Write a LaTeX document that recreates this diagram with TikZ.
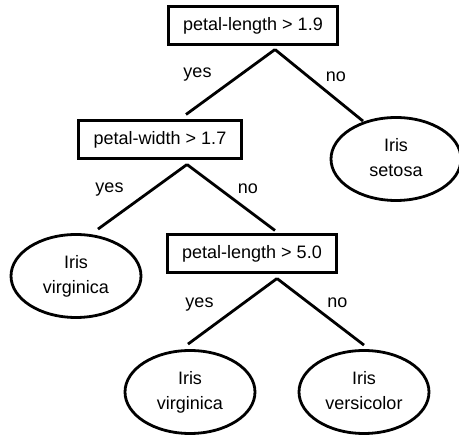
\documentclass[tikz,border=0pt]{standalone}
\usepackage{fontspec}
\setmainfont{Liberation Sans}
\usetikzlibrary{shapes, positioning}

\begin{document}
\begin{tikzpicture}[
    x=1pt, y=-1pt,
    test/.style={draw, rectangle, line width=3pt, minimum height=38pt, inner xsep=15pt, font=\fontsize{18}{27}\selectfont},
    leaf/.style={draw, ellipse, line width=2.8pt, minimum width=130pt, minimum height=83pt, align=center, inner sep=0pt, font=\fontsize{18}{25}\selectfont},
    branch/.style={line width=2.8pt},
    yeslbl/.style={midway, xshift=-33pt, yshift=7pt, font=\fontsize{18}{22}\selectfont},
    nolbl/.style={midway, xshift=17pt, yshift=9pt, font=\fontsize{18}{22}\selectfont}
]
\useasboundingbox (0,0) rectangle (459,435);

% Tests
\node[test] (q_len1) at (253,26) {petal-length > 1.9};
\node[test] (q_wid) at (160,140) {petal-width > 1.7};
\node[test] (q_len2) at (252,254) {petal-length > 5.0};

% Leaves
\node[leaf] (setosa) at (396,159) {Iris\\setosa\rule[-4pt]{0pt}{1pt}};
\node[leaf] (virg_a) at (76,276) {Iris\\virginica\rule[-4pt]{0pt}{1pt}};
\node[leaf] (virg_b) at (190,392) {Iris\\virginica\rule[-4pt]{0pt}{1pt}};
\node[leaf] (versi) at (364,392) {Iris\\versicolor\rule[-4pt]{0pt}{1pt}};

% Branches of first test
\draw[branch] ([xshift=22pt,yshift=-3pt]q_len1.south) -- node[yeslbl] {yes} ([xshift=26pt,yshift=5pt]q_wid.north);
\draw[branch] ([xshift=22pt,yshift=-3pt]q_len1.south) -- node[nolbl] {no} ([xshift=-33pt,yshift=-5pt]setosa.north);

% Branches of second test
\draw[branch] ([xshift=27pt,yshift=-4pt]q_wid.south) -- node[yeslbl] {yes} ([xshift=22pt,yshift=4pt]virg_a.north);
\draw[branch] ([xshift=27pt,yshift=-4pt]q_wid.south) -- node[nolbl] {no} ([xshift=23pt,yshift=3pt]q_len2.north);

% Branches of third test
\draw[branch] ([xshift=25pt,yshift=-4pt]q_len2.south) -- node[yeslbl] {yes} ([xshift=-2pt,yshift=5pt]virg_b.north);
\draw[branch] ([xshift=25pt,yshift=-4pt]q_len2.south) -- node[nolbl] {no} ([yshift=4pt]versi.north);

\end{tikzpicture}
\end{document}
